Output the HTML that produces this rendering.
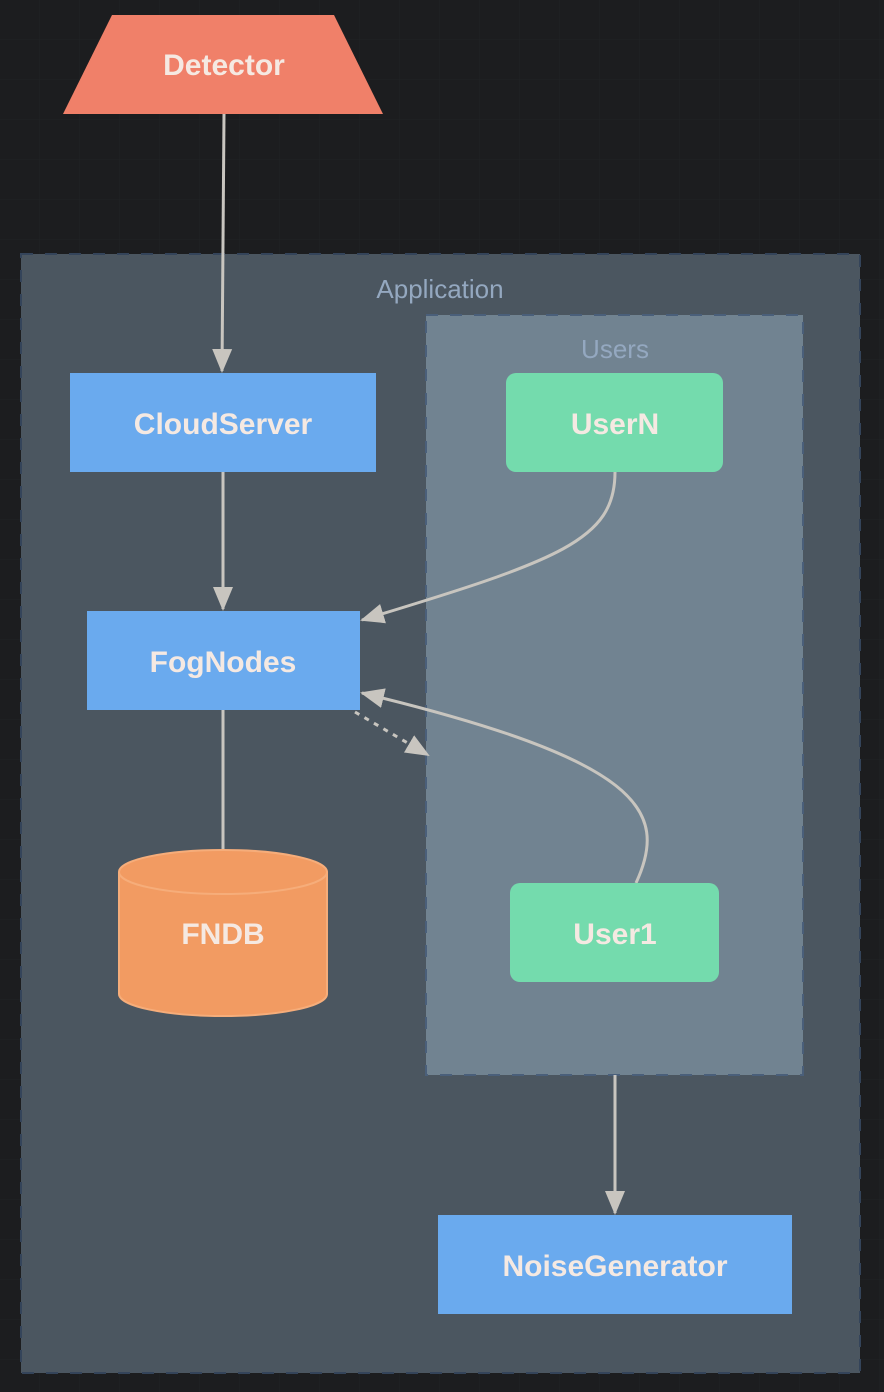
<!DOCTYPE html>
<html><head><meta charset="utf-8"><style>
html,body{margin:0;padding:0;background:#1c1d1f;}
svg{display:block;}
text{font-family:"Liberation Sans",sans-serif;}
</style></head><body>
<svg width="884" height="1392" viewBox="0 0 884 1392" xmlns="http://www.w3.org/2000/svg">
<defs>
<pattern id="g" width="40" height="40" patternUnits="userSpaceOnUse"><path d="M40 0V40M0 40H40" stroke="#ffffff" stroke-opacity="0.025" fill="none"/></pattern>
<marker id="b" markerWidth="24" markerHeight="24" refX="22" refY="12" orient="auto" markerUnits="userSpaceOnUse" viewBox="0 0 24 24"><path d="M0,2 L24,12 L0,22 Z" fill="#c8c5bf"/></marker>
</defs>
<rect width="884" height="1392" fill="#1c1d1f"/>
<rect width="884" height="1392" fill="url(#g)"/>
<rect x="21" y="254" width="839" height="1119" fill="#4b5660" stroke="#34445a" stroke-width="2" stroke-dasharray="12,12"/>
<text x="440" y="298" font-size="26" fill="#94a8c0" text-anchor="middle">Application</text>
<rect x="426" y="315" width="377" height="760" fill="#718391" stroke="#4a5f7a" stroke-width="2" stroke-dasharray="12,12"/>
<text x="615" y="358" font-size="26" fill="#94a8c0" text-anchor="middle">Users</text>
<g stroke="#c8c5bf" stroke-width="3" fill="none">
<path d="M224 114 L222 371" marker-end="url(#b)"/>
<path d="M223 472 L223 609" marker-end="url(#b)"/>
<path d="M223 710 L223 850"/>
<path d="M615 472 C615 540 560 560 362 620" marker-end="url(#b)"/>
<path d="M636 883 C670 810 640 760 362 693" marker-end="url(#b)"/>
<path d="M355 712 L428 755" stroke-dasharray="5,6" marker-end="url(#b)"/>
<path d="M615 1075 L615 1213" marker-end="url(#b)"/>
</g>
<polygon points="112,15 334,15 383,114 63,114" fill="#f08069"/>
<text x="224" y="75" font-size="30" font-weight="bold" fill="#f5e9e2" text-anchor="middle">Detector</text>
<rect x="70" y="373" width="306" height="99" fill="#6aaaee"/>
<text x="223" y="434" font-size="30" font-weight="bold" fill="#f5e9e2" text-anchor="middle">CloudServer</text>
<rect x="87" y="611" width="273" height="99" fill="#6aaaee"/>
<text x="223" y="672" font-size="30" font-weight="bold" fill="#f5e9e2" text-anchor="middle">FogNodes</text>
<rect x="506" y="373" width="217" height="99" rx="10" fill="#74dbad"/>
<text x="615" y="434" font-size="30" font-weight="bold" fill="#f5e9e2" text-anchor="middle">UserN</text>
<rect x="510" y="883" width="209" height="99" rx="10" fill="#74dbad"/>
<text x="615" y="944" font-size="30" font-weight="bold" fill="#f5e9e2" text-anchor="middle">User1</text>
<rect x="438" y="1215" width="354" height="99" fill="#6aaaee"/>
<text x="615" y="1276" font-size="30" font-weight="bold" fill="#f5e9e2" text-anchor="middle">NoiseGenerator</text>
<path d="M119 872 A104 22 0 0 1 327 872 L327 994 A104 22 0 0 1 119 994 Z" fill="#f29b62" stroke="#f6ad7a" stroke-width="2"/>
<path d="M119 872 A104 22 0 0 0 327 872" fill="none" stroke="#f6ad7a" stroke-width="2"/>
<text x="223" y="944" font-size="30" font-weight="bold" fill="#f5e9e2" text-anchor="middle">FNDB</text>
</svg>
</body></html>
